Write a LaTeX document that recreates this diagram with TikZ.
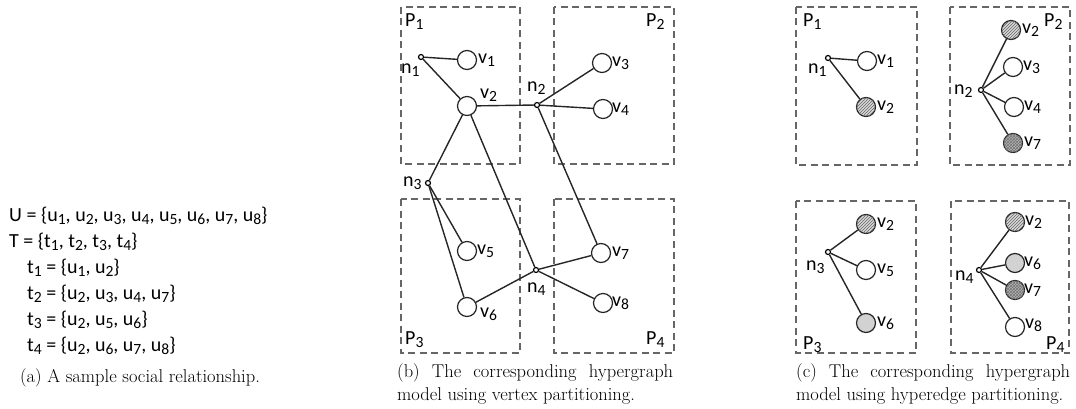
\documentclass[tikz,border=0pt]{standalone}
\usepackage{fontspec}
\usepackage{graphicx}
\newfontfamily\labfont{Carlito}
\usetikzlibrary{patterns}
\newcommand\mysub[1]{\raisebox{-0.3ex}{\scalebox{0.78}{#1}}}
\tikzset{
 part/.style={draw=black!60, line width=1.3pt, dash pattern=on 7pt off 4.5pt},
 vtx/.style={circle, draw=black!85, line width=1.2pt, minimum size=19pt, inner sep=0pt, fill=white},
 hyp/.style={circle, draw=black, line width=1.2pt, minimum size=5pt, inner sep=0pt, fill=white},
 conn/.style={draw=black!85, line width=1.4pt},
 lab/.style={font=\labfont\fontsize{20}{22}\selectfont, inner sep=0pt, anchor=west},
 txt/.style={font=\labfont\fontsize{20}{22}\selectfont, inner sep=0pt, anchor=west},
 captxt/.style={font=\fontsize{18.5}{23}\selectfont, inner sep=0pt, anchor=north west},
 hatch/.style={fill=gray!30, postaction={pattern=north east lines, pattern color=black!60}},
 dark/.style={fill=gray!60, postaction={pattern=crosshatch, pattern color=black!55}},
 light/.style={fill=gray!35},
}
\begin{document}
\begin{tikzpicture}[x=1pt,y=-1pt]
\useasboundingbox (0,0) rectangle (1076,409);
% ---------- (a)
\node[txt] (U) at (9,216) {U = \{u\mysub{1}, u\mysub{2}, u\mysub{3}, u\mysub{4}, u\mysub{5}, u\mysub{6}, u\mysub{7}, u\mysub{8}\}};
\node[txt] (T) at (9,242) {T = \{t\mysub{1}, t\mysub{2}, t\mysub{3}, t\mysub{4}\}};
\node[txt] (t1) at (27,268) {t\mysub{1} = \{u\mysub{1}, u\mysub{2}\}};
\node[txt] (t2) at (27,294) {t\mysub{2} = \{u\mysub{2}, u\mysub{3}, u\mysub{4}, u\mysub{7}\}};
\node[txt] (t3) at (27,320) {t\mysub{3} = \{u\mysub{2}, u\mysub{5}, u\mysub{6}\}};
\node[txt] (t4) at (27,346) {t\mysub{4} = \{u\mysub{2}, u\mysub{6}, u\mysub{7}, u\mysub{8}\}};
\node[captxt, anchor=west] (capa) at (20,378) {(a) A sample social relationship.};
% ---------- (b)
\draw[part] (401,7) rectangle (520,164);
\draw[part] (554,7) rectangle (674,164);
\draw[part] (401,199) rectangle (520,353);
\draw[part] (554,199) rectangle (674,353);
\node[lab] (bP1) at (405,22) {P\mysub{1}};
\node[lab] (bP2) at (646,22) {P\mysub{2}};
\node[lab] (bP3) at (405,340) {P\mysub{3}};
\node[lab] (bP4) at (646,340) {P\mysub{4}};
\node[vtx] (bv1) at (467,60) {};
\node[vtx] (bv2) at (467,106) {};
\node[vtx] (bv3) at (602,63) {};
\node[vtx] (bv4) at (603,109) {};
\node[vtx] (bv5) at (467,251) {};
\node[vtx] (bv6) at (467,307) {};
\node[vtx] (bv7) at (601,253) {};
\node[vtx] (bv8) at (603,303) {};
\node[hyp] (bn1) at (421,57) {};
\node[hyp] (bn2) at (537,105) {};
\node[hyp] (bn3) at (428,183) {};
\node[hyp] (bn4) at (536,270) {};
\draw[conn] (bn1) -- (bv1);
\draw[conn] (bn1) -- (bv2);
\draw[conn] (bv2) -- (bn2);
\draw[conn] (bn2) -- (bv3);
\draw[conn] (bn2) -- (bv4);
\draw[conn] (bn2) -- (bv7);
\draw[conn] (bv2) -- (bn3);
\draw[conn] (bv2) -- (bn4);
\draw[conn] (bn3) -- (bv5);
\draw[conn] (bn3) -- (bv6);
\draw[conn] (bn4) -- (bv6);
\draw[conn] (bn4) -- (bv7);
\draw[conn] (bn4) -- (bv8);
\node[lab] (lbn1) at (401,70) {n\mysub{1}};
\node[lab] (lbn2) at (527,88) {n\mysub{2}};
\node[lab] (lbn3) at (403,183) {n\mysub{3}};
\node[lab] (lbn4) at (527,289) {n\mysub{4}};
\node[lab] (lbv1) at (478,60) {v\mysub{1}};
\node[lab] (lbv2) at (480,95) {v\mysub{2}};
\node[lab] (lbv3) at (612,63) {v\mysub{3}};
\node[lab] (lbv4) at (612,109) {v\mysub{4}};
\node[lab] (lbv5) at (477,251) {v\mysub{5}};
\node[lab] (lbv6) at (480,314) {v\mysub{6}};
\node[lab] (lbv7) at (612,253) {v\mysub{7}};
\node[lab] (lbv8) at (612,303) {v\mysub{8}};
\node[captxt, text width=276pt, align=justify] (capb) at (397,363) {\hyphenpenalty=10000 (b) The corresponding hypergraph model using vertex partitioning.};
% ---------- (c)
\draw[part] (796,7) rectangle (917,165);
\draw[part] (950,7) rectangle (1070,165);
\draw[part] (796,201) rectangle (916,353);
\draw[part] (951,201) rectangle (1069,353);
\node[lab] (cP1) at (803,22) {P\mysub{1}};
\node[lab] (cP2) at (1044,22) {P\mysub{2}};
\node[lab] (cP3) at (803,345) {P\mysub{3}};
\node[lab] (cP4) at (1046,345) {P\mysub{4}};
% P1
\node[vtx] (c1v1) at (867,61) {};
\node[vtx, hatch] (c1v2) at (866,107) {};
\node[hyp] (c1n1) at (828,58) {};
\draw[conn] (c1n1) -- (c1v1);
\draw[conn] (c1n1) -- (c1v2);
\node[lab] (lc1n1) at (808,70) {n\mysub{1}};
\node[lab] (lc1v1) at (877,61) {v\mysub{1}};
\node[lab] (lc1v2) at (877,107) {v\mysub{2}};
% P2
\node[vtx, hatch] (c2v2) at (1011,30) {};
\node[vtx] (c2v3) at (1013,67) {};
\node[vtx] (c2v4) at (1014,107) {};
\node[vtx, dark] (c2v7) at (1013,143) {};
\node[hyp] (c2n2) at (981,90) {};
\draw[conn] (c2n2) -- (c2v2);
\draw[conn] (c2n2) -- (c2v3);
\draw[conn] (c2n2) -- (c2v4);
\draw[conn] (c2n2) -- (c2v7);
\node[lab] (lc2n2) at (954,91) {n\mysub{2}};
\node[lab] (lc2v2) at (1022,30) {v\mysub{2}};
\node[lab] (lc2v3) at (1023,67) {v\mysub{3}};
\node[lab] (lc2v4) at (1024,107) {v\mysub{4}};
\node[lab] (lc2v7) at (1024,143) {v\mysub{7}};
% P3
\node[vtx, hatch] (c3v2) at (866,224) {};
\node[vtx] (c3v5) at (866,270) {};
\node[vtx, light] (c3v6) at (866,323) {};
\node[hyp] (c3n3) at (828,252) {};
\draw[conn] (c3n3) -- (c3v2);
\draw[conn] (c3n3) -- (c3v5);
\draw[conn] (c3n3) -- (c3v6);
\node[lab] (lc3n3) at (806,267) {n\mysub{3}};
\node[lab] (lc3v2) at (877,224) {v\mysub{2}};
\node[lab] (lc3v5) at (877,270) {v\mysub{5}};
\node[lab] (lc3v6) at (877,323) {v\mysub{6}};
% P4
\node[vtx, hatch] (c4v2) at (1015,222) {};
\node[vtx, light] (c4v6) at (1015,263) {};
\node[vtx, dark] (c4v7) at (1015,290) {};
\node[vtx] (c4v8) at (1015,327) {};
\node[hyp] (c4n4) at (979,270) {};
\draw[conn] (c4n4) -- (c4v2);
\draw[conn] (c4n4) -- (c4v6);
\draw[conn] (c4n4) -- (c4v7);
\draw[conn] (c4n4) -- (c4v8);
\node[lab] (lc4n4) at (955,277) {n\mysub{4}};
\node[lab] (lc4v2) at (1025,222) {v\mysub{2}};
\node[lab] (lc4v6) at (1024,263) {v\mysub{6}};
\node[lab] (lc4v7) at (1024,290) {v\mysub{7}};
\node[lab] (lc4v8) at (1025,325) {v\mysub{8}};
\node[captxt, text width=274pt, align=justify] (capc) at (796,363) {\hyphenpenalty=10000 (c) The corresponding hypergraph model using hyperedge partitioning.};
\end{tikzpicture}
\end{document}
